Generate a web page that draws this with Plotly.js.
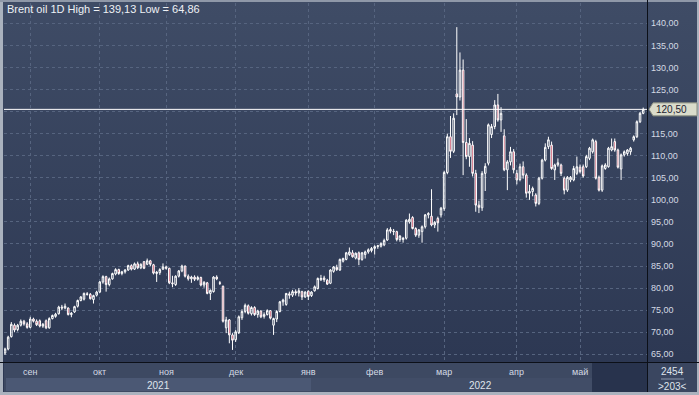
<!DOCTYPE html>
<html><head><meta charset="utf-8">
<script src="https://cdn.plot.ly/plotly-3.0.1.min.js"></script>
<style>
html,body{margin:0;padding:0;}
body{width:699px;height:395px;overflow:hidden;background:linear-gradient(to bottom,#3f4c66 0%,#2b3651 100%);}
#chart{width:699px;height:395px;}
</style></head><body><div id="chart"></div>
<script>
const instrument = 'Brent oil 1D';
const monthLabels = ['сен','окт','ноя','дек','янв','фев','мар','апр','май'];
const monthStartIdx = [8,30,51,73,96,117,139,162,182];
const yearLabels = ['2021','2022'];
const priceTicks = [65,70,75,80,85,90,95,100,105,110,115,120,125,130,135,140];
const footerValue = '2454';
const lastPrice = 120.50;

const openP = [
65.3,66.2,69.0,71.6,70.6,71.6,72.5,71.9,
71.1,73.0,72.5,72.6,71.4,72.6,71.0,73.1,73.6,74.2,75.7,75.5,75.5,74.0,74.6,75.9,77.2,77.5,78.7,78.6,77.4,78.4,
79.1,81.4,82.6,80.8,82.1,83.2,84.2,83.3,83.7,84.1,85.1,84.3,85.5,84.6,86.0,85.4,86.2,85.3,83.3,83.5,84.3,
84.8,84.5,81.2,80.8,82.7,83.9,85.0,82.7,82.1,82.5,82.0,82.4,80.7,81.2,78.8,79.2,82.5,81.2,80.4,71.0,72.8,69.4,
68.3,69.9,73.3,74.7,76.0,74.2,75.6,74.0,74.8,73.6,74.0,74.9,71.6,73.0,74.7,76.9,76.3,78.7,78.4,79.2,78.9,79.2,78.0,
79.3,78.3,79.4,79.9,81.9,82.3,81.8,81.1,83.8,84.7,84.1,86.1,86.5,87.6,88.0,86.8,88.0,86.5,87.6,88.2,88.5,
89.0,89.4,89.5,89.8,90.9,93.3,92.9,92.8,91.0,91.0,91.3,95.0,96.0,93.5,92.0,92.8,93.9,96.6,96.3,94.3,95.8,96.6,
98.0,106.2,114.3,111.0,124.0,123.3,129.4,113.0,109.8,112.4,106.0,98.8,98.2,106.0,108.3,114.8,116.6,121.5,118.1,114.5,106.8,108.6,110.9,
106.0,104.6,107.5,105.6,101.5,101.9,101.1,99.2,104.9,109.0,112.05,112.4,106.8,107.9,107.9,104.9,102.2,104.5,104.5,106.0,
107.4,107.5,107.5,109.4,110.9,113.2,105.1,102.2,107.1,107.5,111.3,113.2,111.3,107.0,110.2,110.5,110.9,113.6,114.3,117.7,119.6
];
const highP = [
66.5,69.2,72.3,72.0,71.9,72.9,72.8,72.3,
73.5,73.3,72.9,72.9,72.1,72.9,73.4,74.0,74.4,76.0,76.2,76.5,75.6,74.6,76.0,77.4,78.2,79.0,79.1,78.9,78.5,79.4,
81.6,82.9,82.8,82.4,83.5,84.5,84.4,83.9,84.3,85.3,85.4,85.8,86.0,85.6,86.1,86.7,86.4,85.5,83.9,84.5,85.6,
85.1,84.6,82.8,82.9,84.1,85.3,85.1,83.1,82.8,82.9,82.8,82.6,81.6,81.4,79.7,82.7,82.9,81.6,80.6,73.5,73.0,69.8,
70.5,73.8,75.2,76.5,76.3,75.9,75.9,75.1,75.0,74.5,75.2,75.0,73.3,75.0,77.1,77.6,78.9,79.2,79.6,79.7,80.0,79.4,79.3,
79.5,79.3,80.6,82.4,83.0,82.8,82.1,84.3,85.0,85.3,86.7,86.9,88.2,89.2,88.6,88.1,88.3,88.2,88.5,89.0,89.3,
89.7,89.8,90.4,91.2,93.6,93.8,93.4,93.0,92.0,91.6,95.6,96.9,96.3,93.8,93.4,94.2,96.8,97.2,102.4,95.2,96.2,98.4,
106.6,115.0,119.0,119.6,139.13,133.4,131.8,118.3,114.0,113.3,106.8,99.8,106.5,108.3,117.3,117.2,122.6,124.0,121.0,116.0,109.0,112.0,111.5,
106.8,108.2,108.7,106.0,103.4,103.0,101.5,105.2,109.3,112.8,114.3,113.2,108.2,109.4,108.2,105.3,105.4,105.4,107.7,109.8,
108.0,108.0,110.2,112.0,113.9,113.6,105.5,108.0,108.3,112.0,113.9,113.9,111.6,110.5,111.2,111.5,112.0,114.6,118.0,119.9,120.9
];
const lowP = [
64.86,65.9,68.8,70.0,70.2,71.3,71.5,70.8,
70.9,72.2,71.4,71.1,71.0,70.7,70.8,72.9,73.3,74.0,75.0,75.2,73.8,73.4,74.4,75.6,77.0,77.2,78.3,77.4,76.5,78.1,
78.9,81.0,79.2,80.4,81.9,82.9,83.0,82.9,83.3,83.9,84.0,84.1,84.3,84.3,84.3,85.2,85.0,83.1,81.4,83.0,84.1,
84.2,80.9,80.2,80.5,82.4,83.6,82.4,81.7,81.2,81.6,81.7,80.4,80.1,78.6,77.3,79.0,81.8,80.7,72.2,69.8,67.5,66.0,
67.8,69.6,72.8,74.3,74.0,73.8,73.7,73.3,73.2,73.1,73.8,72.9,69.4,72.3,74.5,76.0,76.0,77.6,78.0,78.3,78.1,77.3,77.8,
77.3,78.0,79.2,79.7,81.6,81.4,80.7,80.9,83.5,83.9,83.9,85.8,86.3,87.3,86.9,86.5,85.2,86.2,86.7,87.8,88.1,
87.6,88.9,89.2,89.5,90.7,92.4,92.0,90.6,90.5,90.3,91.0,94.6,93.3,91.6,91.4,90.3,93.5,95.8,94.0,93.6,92.8,96.0,
97.5,105.8,109.5,110.6,119.2,122.5,105.6,109.2,107.5,105.3,97.3,97.0,97.5,102.0,107.8,114.0,116.0,117.7,115.4,106.5,102.2,107.8,106.0,
103.5,104.2,104.8,100.5,100.0,100.8,98.5,98.8,104.6,108.7,111.5,106.8,104.5,107.5,105.4,101.25,101.8,104.0,104.2,105.6,
106.0,105.0,107.2,109.0,110.5,104.6,101.9,101.8,106.8,107.3,111.0,110.9,107.1,104.5,109.8,110.0,110.2,113.2,114.0,117.4,119.4
];
const closeP = [
66.2,68.9,71.8,70.5,71.6,72.5,71.9,71.1,
73.0,72.5,71.7,71.4,71.8,71.0,73.1,73.8,74.1,75.7,75.5,75.9,74.0,74.3,75.8,77.2,78.0,78.8,78.6,77.6,78.3,79.1,
81.4,82.6,80.8,82.1,83.3,84.2,83.3,83.7,84.1,85.1,84.3,85.5,84.6,85.4,84.5,86.2,85.4,83.4,83.6,84.2,84.8,
84.5,81.2,81.0,82.7,83.9,85.0,82.7,82.1,82.5,82.0,82.4,80.7,81.3,78.8,79.5,82.5,82.1,81.1,72.5,72.8,69.4,68.2,
70.1,73.5,74.7,76.1,74.3,75.6,74.0,74.8,73.5,74.0,74.9,73.2,73.1,74.7,76.9,77.3,78.8,78.4,79.2,78.9,79.4,78.0,79.1,
78.1,79.1,80.3,82.2,82.2,81.9,80.9,84.1,84.8,84.2,86.5,86.7,88.0,88.2,87.1,87.9,86.5,88.0,88.2,88.7,89.0,
89.4,89.6,90.1,90.8,93.2,92.9,92.8,91.0,91.8,91.3,95.4,95.6,93.5,92.0,93.2,93.9,96.6,96.9,94.3,94.9,94.8,98.1,
106.2,114.3,111.0,118.5,123.3,129.4,113.0,109.8,112.8,106.0,98.8,98.3,106.0,107.6,117.0,116.6,121.5,118.1,119.6,106.8,108.6,110.9,106.8,
104.5,107.5,105.6,101.5,101.9,102.6,99.2,104.9,109.0,111.9,113.6,107.1,107.9,108.4,106.0,102.2,105.1,105.1,107.1,107.5,
106.4,105.4,109.8,111.7,113.6,104.9,102.2,107.7,107.9,111.7,112.05,111.3,107.4,110.2,110.9,111.3,111.7,114.3,117.7,119.6,120.5
];

const xIdx = openP.map((_, i) => i);
const fmt = v => v.toFixed(2).replace('.', ',');
const hi = Math.max(...highP), lo = Math.min(...lowP);
// the price marker box covers the tick label it sits on
const priceTickText = priceTicks.map(v => Math.abs(v - lastPrice) < 3 ? '' : fmt(v));

// pixel helpers (layout geometry only)
const W = 699, H = 395, L = 4, R = 647, T = 3, B = 362;
const px = x => (x - L) / (R - L);
const py = y => (B - y) / (B - T);

const trace = {
  type: 'candlestick', x: xIdx, open: openP, high: highP, low: lowP, close: closeP,
  increasing: {line: {color: '#ffffff', width: 1}, fillcolor: 'rgba(0,0,0,0)'},
  decreasing: {line: {color: '#ffffff', width: 1}, fillcolor: '#c0304c'},
  whiskerwidth: 0, hoverinfo: 'none'
};

const rect = (x0, y0, x1, y1, fill) => ({type: 'rect', xref: 'paper', yref: 'paper',
  x0: px(x0), x1: px(x1), y0: py(y0), y1: py(y1), fillcolor: fill, line: {width: 0}, layer: 'below'});
const lineP = (x0, y0, x1, y1, col) => ({type: 'line', xref: 'paper', yref: 'paper',
  x0: px(x0), x1: px(x1), y0: py(y0), y1: py(y1), line: {color: col, width: 1}});

const shapes = [
  rect(4, 362.5, 647, 392, '#3d4962'),
  rect(6, 378, 311, 391, '#4b5874'),
  rect(311, 378, 592, 391, '#414d67'),
  rect(592, 363, 647, 392, '#28334d'),
  rect(647.5, 362.5, 697, 392, '#3a4660'),
  lineP(0, 362.5, 699, 362.5, '#0c1018'),
  lineP(647.5, 0, 647.5, 392, '#0c1018'),
  lineP(661, 379, 684, 379, '#8a97ad'),
  rect(0, 0, 3, 395, '#aab2be'),
  rect(0, 392, 699, 395, '#aab2be'),
  rect(0, 0, 699, 2, '#8f98a8'),
  rect(697, 0, 699, 395, '#aab2be'),
  {type: 'line', xref: 'paper', yref: 'y', x0: 0, x1: 1, y0: lastPrice, y1: lastPrice,
   line: {color: '#ffffff', width: 1}},
  {type: 'path', xref: 'paper', yref: 'y', xsizemode: 'pixel', ysizemode: 'pixel',
   xanchor: 1, yanchor: lastPrice, path: 'M 2 0 L 6 -6.5 L 50 -6.5 L 50 6.5 L 6 6.5 Z',
   fillcolor: '#dadccb', line: {color: '#8c9080', width: 1}}
];

const annotations = [
  {xref: 'paper', yref: 'paper', x: px(5), y: py(9.5), xanchor: 'left', yanchor: 'middle', showarrow: false,
   text: `${instrument} High = ${fmt(hi)} Low = ${fmt(lo)}`, font: {size: 11, color: '#eef1f5'}},
  {xref: 'paper', yref: 'y', x: px(654), y: lastPrice, xanchor: 'left', yanchor: 'middle', showarrow: false,
   text: fmt(lastPrice), font: {size: 10, color: '#1c2230'}},
  {xref: 'paper', yref: 'paper', x: px(672), y: py(371), xanchor: 'center', yanchor: 'middle', showarrow: false,
   text: footerValue, font: {size: 10, color: '#dfe4ec'}},
  {xref: 'paper', yref: 'paper', x: px(672), y: py(386), xanchor: 'center', yanchor: 'middle', showarrow: false,
   text: '&gt;' + openP.length + '&lt;', font: {size: 10, color: '#dfe4ec'}},
  {xref: 'paper', yref: 'paper', x: px(158), y: py(385), xanchor: 'center', yanchor: 'middle', showarrow: false,
   text: yearLabels[0], font: {size: 10, color: '#dfe4ec'}},
  {xref: 'paper', yref: 'paper', x: px(480), y: py(385), xanchor: 'center', yanchor: 'middle', showarrow: false,
   text: yearLabels[1], font: {size: 10, color: '#dfe4ec'}}
];
monthLabels.forEach((m, k) => annotations.push({xref: 'x', yref: 'paper', x: monthStartIdx[k], y: py(372),
  xanchor: 'center', yanchor: 'middle', showarrow: false, text: m, font: {size: 9, color: '#d4dae4'}}));

const layout = {
  width: W, height: H, margin: {l: L, r: W - R, t: T, b: H - B, pad: 0},
  paper_bgcolor: 'rgba(0,0,0,0)', plot_bgcolor: 'rgba(0,0,0,0)',
  separators: ', ', showlegend: false,
  font: {family: 'Liberation Sans, Arial, sans-serif', size: 10, color: '#dfe4ec'},
  xaxis: {range: [-0.32, 203.2], tickvals: monthStartIdx, showticklabels: false, ticks: '',
    showgrid: true, gridcolor: '#56647f', griddash: '3px,3px', gridwidth: 1,
    zeroline: false, showline: false, rangeslider: {visible: false}, fixedrange: true},
  yaxis: {side: 'right', range: [63.26, 144.6], tickmode: 'array', tickvals: priceTicks, ticktext: priceTickText,
    ticks: '', ticklabelstandoff: 3, showgrid: true, gridcolor: '#56647f', griddash: '3px,3px', gridwidth: 1,
    zeroline: false, showline: false, fixedrange: true,
    tickfont: {family: 'Liberation Sans Narrow, Liberation Sans, Arial, sans-serif', size: 9, color: '#d4dae4'}},
  shapes: shapes, annotations: annotations
};

Plotly.newPlot('chart', [trace], layout, {staticPlot: true, displayModeBar: false});
</script></body></html>
